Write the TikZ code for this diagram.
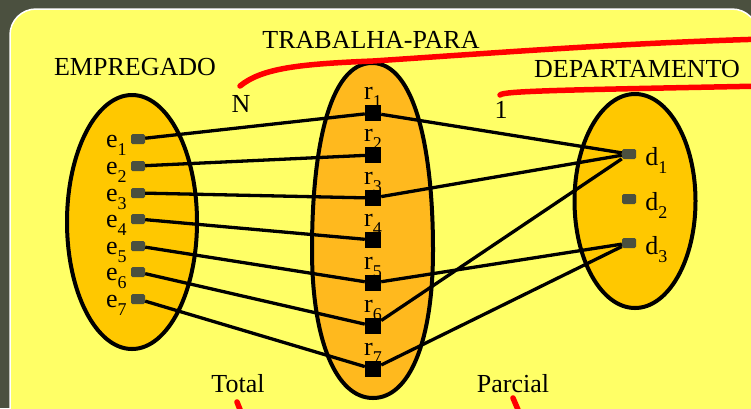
\documentclass[tikz,border=0pt]{standalone}
\usepackage{fontspec}
\setmainfont{Liberation Serif}
\usetikzlibrary{shapes.geometric, positioning}
\definecolor{fundo}{RGB}{75,80,63}
\definecolor{painel}{RGB}{255,255,102}
\definecolor{ouro}{RGB}{255,200,0}
\definecolor{laranja}{RGB}{255,185,30}
\newcommand{\sbs}[1]{\raisebox{-8pt}{\fontsize{18}{20}\selectfont #1}}
\tikzset{
  conjunto/.style={draw, ellipse, line width=4pt, inner sep=0pt},
  elem/.style={fill=fundo, rounded corners=1.5pt, minimum width=14pt, minimum height=10pt, inner sep=0pt},
  relem/.style={fill=black, minimum size=16pt, inner sep=0pt},
  liga/.style={line width=3.3pt},
  traco/.style={red, line width=5.5pt, line cap=round},
  rotulo/.style={font=\fontsize{26}{30}\selectfont, inner sep=0pt},
  elab/.style={rotulo, anchor=base east, xshift=-4pt, yshift=-8pt},
  rlab/.style={rotulo, anchor=base, yshift=5pt},
  dlab/.style={rotulo, anchor=base west, xshift=9pt, yshift=-11pt}
}

\begin{document}
\begin{tikzpicture}[x=1pt, y=-1pt]
  \clip (0,0) rectangle (751,408);
  \fill[fundo] (0,0) rectangle (751,408);
  \draw[white, line width=1.5pt, fill=painel, rounded corners=26pt] (10,9) rectangle (758,440);

  % os tres conjuntos
  \node[conjunto, fill=ouro, minimum width=130pt, minimum height=254pt] (empregado) at (132,222) {};
  \draw[line width=4pt, fill=laranja] (372,63) .. controls (415,63) and (433,150) .. (433,250)
    .. controls (433,340) and (410,398) .. (373,398)
    .. controls (336,398) and (312,340) .. (312,250)
    .. controls (312,150) and (329,63) .. cycle;
  \node[conjunto, fill=ouro, minimum width=121pt, minimum height=214pt] (departamento) at (635,201) {};

  % tracos vermelhos
  \draw[traco] (240,86) .. controls (262,68) and (300,64) .. (373,61) .. controls (480,54) and (620,43) .. (765,39);
  \draw[traco] (500,95) .. controls (503,91) and (560,90) .. (765,86);
  \draw[traco] (237,402) -- (241,412);
  \draw[traco] (513,398) -- (519,412);

  % empregados
  \node[elem, label={[elab]left:e\sbs{1}}] (e1) at (138,139) {};
  \node[elem, label={[elab]left:e\sbs{2}}] (e2) at (138,166) {};
  \node[elem, label={[elab]left:e\sbs{3}}] (e3) at (138,193) {};
  \node[elem, label={[elab]left:e\sbs{4}}] (e4) at (138,219) {};
  \node[elem, label={[elab]left:e\sbs{5}}] (e5) at (138,246) {};
  \node[elem, label={[elab]left:e\sbs{6}}] (e6) at (138,272) {};
  \node[elem, label={[elab]left:e\sbs{7}}] (e7) at (138,299) {};

  % relacionamentos
  \node[relem, label={[rlab]above:r\sbs{1}}] (r1) at (373,113) {};
  \node[relem, label={[rlab]above:r\sbs{2}}] (r2) at (373,155) {};
  \node[relem, label={[rlab]above:r\sbs{3}}] (r3) at (373,198) {};
  \node[relem, label={[rlab]above:r\sbs{4}}] (r4) at (373,240) {};
  \node[relem, label={[rlab]above:r\sbs{5}}] (r5) at (373,283) {};
  \node[relem, label={[rlab]above:r\sbs{6}}] (r6) at (373,326) {};
  \node[relem, label={[rlab]above:r\sbs{7}}] (r7) at (373,369) {};

  % departamentos
  \node[elem, label={[dlab]right:d\sbs{1}}] (d1) at (629,154) {};
  \node[elem, label={[dlab]right:d\sbs{2}}] (d2) at (629,199) {};
  \node[elem, label={[dlab]right:d\sbs{3}}] (d3) at (629,243) {};

  \draw[liga] (e1) -- (r1);
  \draw[liga] (e2) -- (r2);
  \draw[liga] (e3) -- (r3);
  \draw[liga] (e4) -- (r4);
  \draw[liga] (e5) -- (r5);
  \draw[liga] (e6) -- (r6);
  \draw[liga] (e7) -- (r7);
  \draw[liga] (r1) -- (d1);
  \draw[liga] (r3) -- (d1);
  \draw[liga] (r6) -- (d1);
  \draw[liga] (r5) -- (d3);
  \draw[liga] (r7) -- (d3);

  % textos
  \node[rotulo, anchor=base] (tEmp) at (135,75) {EMPREGADO};
  \node[rotulo, anchor=base] (tTrab) at (371,48) {TRABALHA-PARA};
  \node[rotulo, anchor=base] (tDep) at (637,77) {DEPARTAMENTO};
  \node[rotulo, anchor=base] (tN) at (241,112) {N};
  \node[rotulo, anchor=base] (tUm) at (501,118) {1};
  \node[rotulo, anchor=base] (tTotal) at (238,392) {Total};
  \node[rotulo, anchor=base] (tParcial) at (513,392) {Parcial};
\end{tikzpicture}
\end{document}
